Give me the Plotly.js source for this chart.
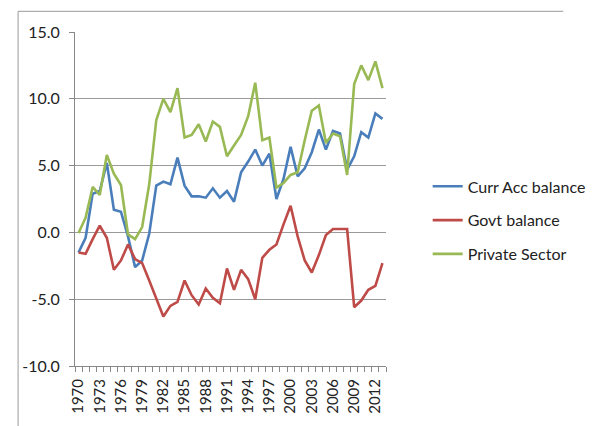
<!DOCTYPE html>
<html>
<head>
<meta charset="utf-8">
<script src="https://cdn.plot.ly/plotly-3.0.1.min.js"></script>
<style>html,body{margin:0;padding:0;background:#fff;}#chart{width:603px;height:426px;}</style>
</head>
<body>
<div id="chart"></div>
<script>
const years = [1970,1971,1972,1973,1974,1975,1976,1977,1978,1979,1980,1981,1982,1983,1984,1985,1986,1987,1988,1989,1990,1991,1992,1993,1994,1995,1996,1997,1998,1999,2000,2001,2002,2003,2004,2005,2006,2007,2008,2009,2010,2011,2012,2013];
const currAcc = [-1.5,-0.4,2.9,3.1,5.2,1.7,1.55,-0.3,-2.6,-2.1,-0.1,3.5,3.8,3.6,5.6,3.5,2.7,2.7,2.6,3.3,2.6,3.1,2.3,4.5,5.3,6.2,5.0,5.9,2.5,4.0,6.4,4.2,4.8,6.0,7.7,6.2,7.6,7.4,4.7,5.7,7.5,7.1,8.9,8.5];
const govt = [-1.5,-1.6,-0.5,0.5,-0.4,-2.8,-2.1,-0.9,-2.0,-2.3,-3.6,-4.9,-6.3,-5.5,-5.2,-3.6,-4.7,-5.4,-4.2,-4.9,-5.3,-2.7,-4.3,-2.8,-3.5,-5.0,-1.9,-1.3,-0.9,0.6,2.0,-0.3,-2.1,-3.0,-1.7,-0.2,0.25,0.25,0.25,-5.6,-5.1,-4.3,-4.0,-2.3];
const privateSector = [-0.05,1.1,3.4,2.8,5.8,4.4,3.55,-0.15,-0.5,0.4,3.6,8.4,10.0,9.0,10.8,7.1,7.3,8.1,6.8,8.3,7.9,5.7,6.5,7.3,8.7,11.2,6.9,7.1,3.35,3.7,4.3,4.5,6.9,9.1,9.5,6.7,7.4,7.2,4.3,11.1,12.5,11.4,12.8,10.8];
const yTicks = [-10,-5,0,5,10,15];
const xLabelYears = [1970,1973,1976,1979,1982,1985,1988,1991,1994,1997,2000,2003,2006,2009,2012];

const FONT = 'Lato, "Open Sans", Arial, sans-serif';

function series(name, y, color, group) {
  return {x: years, y: y, name: name, type: 'scatter', mode: 'lines',
    line: {color: color, width: 2.6}, legendgroup: group, hoverinfo: 'skip'};
}

const data = [
  series('Curr Acc balance', currAcc, '#4a7ebb', 'a'),
  series('Govt balance', govt, '#be4b48', 'b'),
  series('Private Sector', privateSector, '#98b954', 'c')
];

const layout = {
  width: 603, height: 426,
  margin: {l: 75, r: 190, t: 32, b: 60},
  paper_bgcolor: '#fff', plot_bgcolor: '#fff',
  font: {family: FONT, color: '#222', size: 14},
  showlegend: true,
  legend: {x: 1.134, y: 0.436, xanchor: 'left', yanchor: 'middle',
    font: {family: FONT, size: 16, color: '#222'}, traceorder: 'grouped', tracegroupgap: 10,
    itemwidth: 30, bgcolor: 'rgba(0,0,0,0)'},
  xaxis: {
    range: [1969.5, 2013.5], tickmode: 'array', tickvals: xLabelYears,
    ticktext: xLabelYears.map(String), tickangle: -90, ticks: '', showgrid: false,
    zeroline: false, showline: true, linecolor: '#888', linewidth: 1,
    ticklabelstandoff: 6,
    tickfont: {family: FONT, size: 15, color: '#222'},
    minor: {tickmode: 'linear', tick0: 1969.5, dtick: 1, ticks: 'outside', ticklen: 5, tickcolor: '#888', showgrid: false}
  },
  yaxis: {
    range: [-10, 15], tickmode: 'array', tickvals: yTicks,
    ticktext: yTicks.map(v => v.toFixed(1)), ticks: 'outside', ticklen: 5, tickcolor: '#888',
    showgrid: true, gridcolor: '#9a9a9a', gridwidth: 1, zeroline: false,
    showline: true, linecolor: '#888', linewidth: 1,
    ticklabelstandoff: 6,
    tickfont: {family: FONT, size: 16, color: '#222'}
  },
  shapes: [
    {type: 'line', xref: 'paper', yref: 'paper', x0: -0.183, x1: 1.57, y0: 1.062, y1: 1.062, line: {color: '#999', width: 1}},
    {type: 'line', xref: 'paper', yref: 'paper', x0: -0.183, x1: -0.183, y0: 1.062, y1: -0.2, line: {color: '#999', width: 1}}
  ]
};

Plotly.newPlot('chart', data, layout, {displayModeBar: false, staticPlot: true});
</script>
</body>
</html>
